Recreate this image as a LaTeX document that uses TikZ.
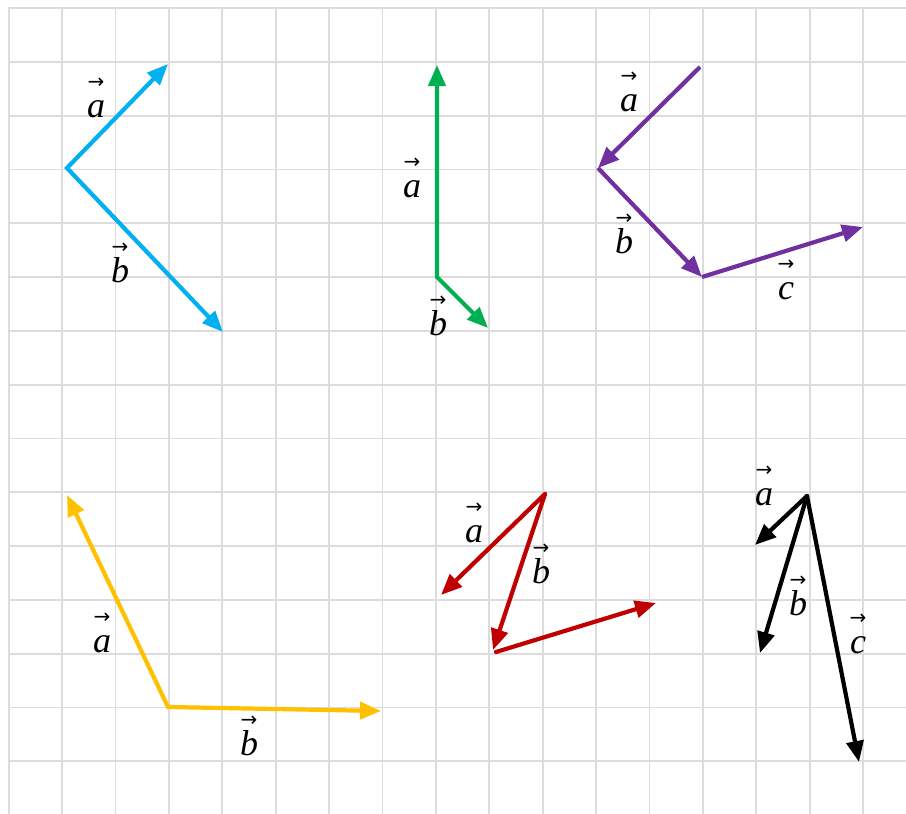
\documentclass[tikz,border=0pt]{standalone}
\usepackage{fontspec}
\setmainfont{Liberation Serif}
\newfontfamily\arrowfont{DejaVu Sans}
\usetikzlibrary{arrows.meta}
\definecolor{gridc}{RGB}{220,220,222}
\definecolor{vblue}{RGB}{0,176,240}
\definecolor{vgreen}{RGB}{0,176,80}
\definecolor{vpurple}{RGB}{112,48,160}
\definecolor{vyellow}{RGB}{255,192,0}
\definecolor{vred}{RGB}{192,0,0}
\newcommand\vlab[1]{\vbox{\baselineskip=29pt\lineskiplimit=-100pt\lineskip=0pt\halign{\hfil##\hfil\cr{\arrowfont\fontsize{20}{20}\selectfont\char"2192}\cr\textit{#1}\cr}}}
\tikzset{
  gridline/.style={draw=gridc, line width=1.8pt},
  vec/.style={line width=4.2pt, -{Triangle[length=21pt,width=17pt]}},
  vecboth/.style={line width=4.2pt, {Triangle[length=21pt,width=17pt]}-{Triangle[length=21pt,width=17pt]}, line join=miter},
  lab/.style={font=\fontsize{36}{40}\selectfont, inner sep=0pt, anchor=base}
}
\begin{document}
\begin{tikzpicture}[x=1pt,y=-1pt]
\useasboundingbox (0,0) rectangle (906,814);
\fill[white] (0,0) rectangle (906,814);
% grid
\foreach \k in {0,...,16} {
  \draw[gridline] ({8.6+53.4*\k},7) -- ({8.6+53.4*\k},814);
}
\foreach \k in {0,...,14} {
  \draw[gridline] (8,{8+53.8*\k}) -- (906,{8+53.8*\k});
}
% blue
\coordinate (bO) at (67,168);
\coordinate (bA) at (168,64);
\coordinate (bB) at (223,332);
\draw[vecboth, vblue] (bA) -- (bO) -- (bB);
\node[lab] (bla) at (96,117) {\vlab{a}};
\node[lab] (blb) at (120,282) {\vlab{b}};
% green
\coordinate (gO) at (437,277);
\coordinate (gA) at (437,65);
\coordinate (gB) at (488,328);
\draw[vecboth, vgreen] (gA) -- (gO) -- (gB);
\node[lab] (gla) at (412,197) {\vlab{a}};
\node[lab] (glb) at (438,335) {\vlab{b}};
% purple
\coordinate (p0) at (700,67);
\coordinate (p1) at (598,168);
\coordinate (p2) at (702,277);
\coordinate (p3) at (863,227);
\draw[vec, vpurple] (p0) -- (p1);
\draw[vec, vpurple] (p1) -- (p2);
\draw[vec, vpurple] (p2) -- (p3);
\node[lab] (pla) at (629,111) {\vlab{a}};
\node[lab] (plb) at (624,253) {\vlab{b}};
\node[lab] (plc) at (786,299) {\vlab{c}};
% yellow
\coordinate (yO) at (168,707);
\coordinate (yA) at (67,495);
\coordinate (yB) at (381,711);
\draw[vecboth, vyellow] (yA) -- (yO) -- (yB);
\node[lab] (yla) at (102,652) {\vlab{a}};
\node[lab] (ylb) at (249,755) {\vlab{b}};
% red
\coordinate (rO) at (545,494);
\coordinate (rA) at (441,595);
\coordinate (rB) at (493,650);
\coordinate (rC0) at (496,652);
\coordinate (rC) at (656,603);
\draw[vec, vred, line cap=round] (rO) -- (rA);
\draw[vec, vred, line cap=round] (rO) -- (rB);
\draw[vec, vred, line cap=round] (rC0) -- (rC);
\node[lab] (rla) at (474,542) {\vlab{a}};
\node[lab] (rlb) at (541,583) {\vlab{b}};
% black
\coordinate (kO) at (807,496);
\coordinate (kA) at (755,545);
\coordinate (kB) at (760,653);
\coordinate (kC) at (859,762);
\draw[vec, black, line cap=round] (kO) -- (kA);
\draw[vec, black, line cap=round] (kO) -- (kB);
\draw[vec, black, line cap=round] (kO) -- (kC);
\node[lab] (kla) at (764,505) {\vlab{a}};
\node[lab] (klb) at (798,615) {\vlab{b}};
\node[lab] (klc) at (858,653) {\vlab{c}};
\end{tikzpicture}
\end{document}
